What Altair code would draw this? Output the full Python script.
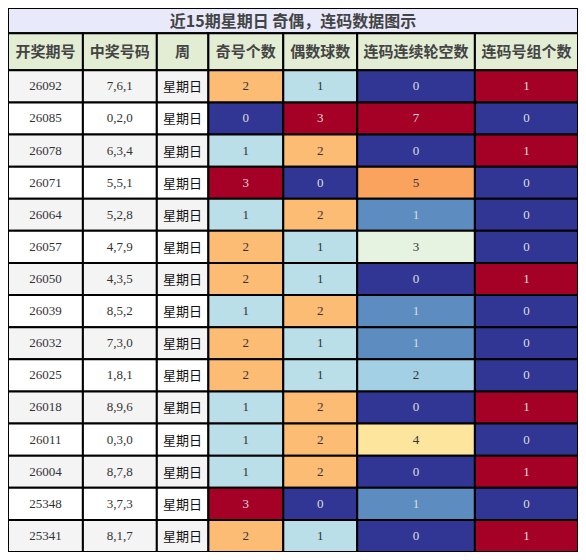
import altair as alt
import pandas as pd

title_text = "近15期星期日 奇偶，连码数据图示"
headers = ["开奖期号", "中奖号码", "周", "奇号个数", "偶数球数", "连码连续轮空数", "连码号组个数"]

issues = ["26092", "26085", "26078", "26071", "26064", "26057", "26050", "26039",
          "26032", "26025", "26018", "26011", "26004", "25348", "25341"]
numbers = ["7,6,1", "0,2,0", "6,3,4", "5,5,1", "5,2,8", "4,7,9", "4,3,5", "8,5,2",
           "7,3,0", "1,8,1", "8,9,6", "0,3,0", "8,7,8", "3,7,3", "8,1,7"]
weekday = ["星期日"] * 15
odd_count = [2, 0, 1, 3, 1, 2, 2, 1, 2, 2, 1, 1, 1, 3, 2]
even_count = [1, 3, 2, 0, 2, 1, 1, 2, 1, 1, 2, 2, 2, 0, 1]
gap_count = [0, 7, 0, 5, 1, 3, 0, 1, 1, 2, 0, 4, 0, 1, 0]
group_count = [1, 0, 1, 0, 0, 0, 1, 0, 0, 0, 1, 0, 1, 0, 1]

# layout (in reference pixels)
col_edges = [0, 77, 153, 206, 283, 359, 480, 586]
title_h = 26
header_h = 38
row_h = 33
total_w = 586
total_h = title_h + header_h + row_h * 15

text_cols = [issues, numbers, weekday]
heat_cols = [odd_count, even_count, gap_count, group_count]

plain = []
for c, values in enumerate(text_cols):
    for r, v in enumerate(values):
        plain.append({"row": r, "col": c, "label": v,
                      "x0": col_edges[c], "x1": col_edges[c + 1],
                      "y0": title_h + header_h + r * row_h,
                      "y1": title_h + header_h + (r + 1) * row_h})
plain = pd.DataFrame(plain)

heat = []
for k, values in enumerate(heat_cols):
    c = k + 3
    for r, v in enumerate(values):
        heat.append({"row": r, "col": c, "label": str(v), "value": v,
                     "x0": col_edges[c], "x1": col_edges[c + 1],
                     "y0": title_h + header_h + r * row_h,
                     "y1": title_h + header_h + (r + 1) * row_h})
heat = pd.DataFrame(heat)

head = pd.DataFrame([{"label": h, "x0": col_edges[i], "x1": col_edges[i + 1],
                      "y0": title_h, "y1": title_h + header_h}
                     for i, h in enumerate(headers)])
top = pd.DataFrame([{"label": title_text, "x0": 0, "x1": total_w,
                     "y0": 0, "y1": title_h}])

xs = alt.Scale(domain=[0, total_w])
ys = alt.Scale(domain=[0, total_h], reverse=True)


def boxes(df, **kw):
    return alt.Chart(df).mark_rect(stroke="black", strokeWidth=2, **kw).encode(
        x=alt.X("x0:Q", scale=xs, axis=None),
        x2="x1:Q",
        y=alt.Y("y0:Q", scale=ys, axis=None),
        y2="y1:Q",
    )


def labels(df, **kw):
    return alt.Chart(df).mark_text(**kw).transform_calculate(
        xc="(datum.x0 + datum.x1) / 2",
        yc="(datum.y0 + datum.y1) / 2",
    ).encode(
        x=alt.X("xc:Q", scale=xs, axis=None),
        y=alt.Y("yc:Q", scale=ys, axis=None),
        text="label:N",
    )


serif = "Liberation Serif, Noto Sans CJK SC"
sans = "Noto Sans CJK SC"

title_box = boxes(top, fill="#e8eafc")
title_lbl = labels(top, font=sans, fontSize=16, fontWeight="bold", color="#444444", dy=1)

head_box = boxes(head, fill="#e3edd4")
head_lbl = labels(head, font=sans, fontSize=15, fontWeight="bold", color="#444444")

plain_box = boxes(plain).encode(
    fill=alt.condition("datum.row % 2 == 0", alt.value("#f4f4f4"), alt.value("#ffffff"))
)
num_lbl = labels(plain[plain["col"] < 2], font=serif, fontSize=13, color="#333333")
day_lbl = labels(plain[plain["col"] == 2], font=sans, fontSize=13, color="#111111", dy=1)

heat_box = boxes(heat).transform_joinaggregate(
    vmax="max(value)", groupby=["col"]
).transform_calculate(
    t="datum.value / datum.vmax"
).encode(
    fill=alt.Fill("t:Q", scale=alt.Scale(scheme="redyellowblue", reverse=True,
                                         domain=[0, 1]), legend=None)
)
heat_lbl = labels(heat, font=serif, fontSize=13).transform_joinaggregate(
    vmax="max(value)", groupby=["col"]
).transform_calculate(
    t="datum.value / datum.vmax"
).encode(
    color=alt.condition("datum.t < 0.2 || datum.t > 0.85",
                        alt.value("#dddddd"), alt.value("#333333"))
)

chart = alt.layer(
    title_box, head_box, plain_box, heat_box,
    title_lbl, head_lbl, num_lbl, day_lbl, heat_lbl,
).properties(
    width=570, height=544,
    autosize=alt.AutoSizeParams(type="none"),
    padding=0,
).configure_view(stroke=None)

chart.save("out.html", embed_options={"renderer": "svg", "actions": False})
